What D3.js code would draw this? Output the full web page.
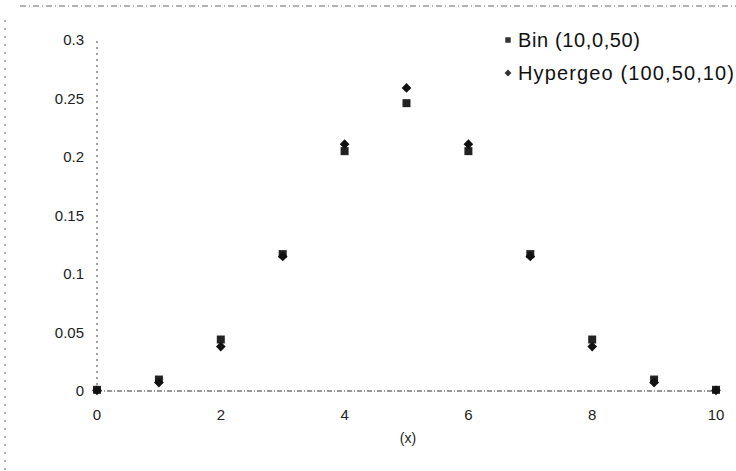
<!DOCTYPE html>
<html>
<head>
<meta charset="utf-8">
<script src="https://cdn.jsdelivr.net/npm/d3@7"></script>
<style>
  body { margin: 0; background: #fff; }
  svg { font-family: "Liberation Sans", Arial, sans-serif; }
</style>
</head>
<body>
<svg width="736" height="471"></svg>
<script>
// values
var xs = [0, 1, 2, 3, 4, 5, 6, 7, 8, 9, 10];
var binVals = [0.001, 0.0098, 0.044, 0.117, 0.205, 0.246, 0.205, 0.117, 0.044, 0.0098, 0.001];
var hyperVals = [0.0006, 0.0072, 0.038, 0.115, 0.211, 0.259, 0.211, 0.115, 0.038, 0.0072, 0.0006];
var yTicks = [0, 0.05, 0.1, 0.15, 0.2, 0.25, 0.3];
var xTicks = [0, 2, 4, 6, 8, 10];
var seriesNames = ['Bin (10,0,50)', 'Hypergeo (100,50,10)'];

var svg = d3.select('svg');
var x = d3.scaleLinear().domain([0, 10]).range([97, 716]);
var y = d3.scaleLinear().domain([0, 0.3]).range([391, 40]);

// scanned frame edges
svg.append('line').attr('x1', 20).attr('x2', 736).attr('y1', 6).attr('y2', 6)
  .attr('stroke', '#666').attr('stroke-dasharray', '6,3,1,3');
svg.append('line').attr('x1', 5).attr('x2', 5).attr('y1', 20).attr('y2', 471)
  .attr('stroke', '#666').attr('stroke-dasharray', '2,6');

// axes lines
svg.append('line').attr('x1', x(0)).attr('x2', x(10)).attr('y1', y(0)).attr('y2', y(0))
  .attr('stroke', '#333').attr('stroke-dasharray', '5,2,1,2');
svg.append('line').attr('x1', x(0)).attr('x2', x(0)).attr('y1', y(0)).attr('y2', y(0.3))
  .attr('stroke', '#444').attr('stroke-dasharray', '2,4');

// tick labels
svg.selectAll('.ytick').data(yTicks).enter().append('text')
  .attr('x', 84).attr('y', function(d){ return y(d) + 5; })
  .attr('text-anchor', 'end').attr('font-size', 15).attr('fill', '#222')
  .text(function(d){ return d; });
svg.selectAll('.xtick').data(xTicks).enter().append('text')
  .attr('x', function(d){ return x(d); }).attr('y', 420)
  .attr('text-anchor', 'middle').attr('font-size', 15).attr('fill', '#222')
  .text(function(d){ return d; });
svg.append('text').attr('x', 408).attr('y', 443).attr('text-anchor', 'middle')
  .attr('font-size', 14).attr('fill', '#222').text('(x)');

// points
var sq = d3.symbol().type(d3.symbolSquare).size(64);
var dia = d3.symbol().type(d3.symbolDiamond2).size(60);
svg.selectAll('.bin').data(xs).enter().append('path')
  .attr('d', sq).attr('fill', '#222')
  .attr('transform', function(d, i){ return 'translate(' + x(d) + ',' + y(binVals[i]) + ')'; });
svg.selectAll('.hyp').data(xs).enter().append('path')
  .attr('d', dia).attr('fill', '#111')
  .attr('transform', function(d, i){ return 'translate(' + x(d) + ',' + y(hyperVals[i]) + ')'; });

// legend
svg.append('path').attr('d', d3.symbol().type(d3.symbolSquare).size(30)).attr('fill', '#333')
  .attr('transform', 'translate(508,40)');
svg.append('text').attr('x', 518).attr('y', 47).attr('font-size', 20).attr('fill', '#111')
  .attr('textLength', 122).text(seriesNames[0]);
svg.append('path').attr('d', d3.symbol().type(d3.symbolDiamond2).size(30)).attr('fill', '#333')
  .attr('transform', 'translate(508,73)');
svg.append('text').attr('x', 518).attr('y', 80).attr('font-size', 20).attr('fill', '#111')
  .attr('textLength', 216).text(seriesNames[1]);
</script>
</body>
</html>
